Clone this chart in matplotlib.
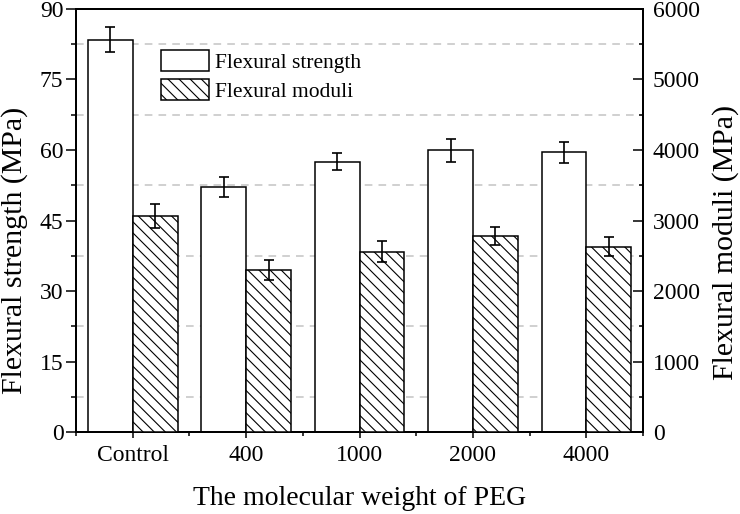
import matplotlib
matplotlib.use("Agg")
import matplotlib.pyplot as plt
import numpy as np
from matplotlib.ticker import MultipleLocator
from matplotlib.patches import Patch

plt.rcParams['font.family'] = ['Liberation Serif', 'DejaVu Serif']
plt.rcParams['hatch.linewidth'] = 0.8

categories = ["Control", "400", "1000", "2000", "4000"]
strength = [83.5, 52.1, 57.5, 59.9, 59.5]
strength_err = [2.7, 2.2, 1.85, 2.4, 2.3]
moduli = [3065, 2300, 2560, 2782, 2630]
moduli_err = [166, 138, 146, 131, 139]

fig = plt.figure(figsize=(7.4, 5.14), dpi=100)
ax = fig.add_axes([0.1027, 0.1595, 0.7663, 0.8230])
ax2 = ax.twinx()

x = np.arange(1, len(categories) + 1)
w = 0.395
lw = 1.1

ax.bar(x - w / 2, strength, width=w, color='white', edgecolor='black', linewidth=lw, zorder=3)
ax.errorbar(x - w / 2, strength, yerr=strength_err, fmt='none', ecolor='black',
            elinewidth=1.2, capsize=3.3, capthick=1.2, zorder=4)
ax2.bar(x + w / 2, moduli, width=w, color='white', edgecolor='black', linewidth=lw,
        hatch='\\\\\\', zorder=3)
ax2.errorbar(x + w / 2, moduli, yerr=moduli_err, fmt='none', ecolor='black',
             elinewidth=1.2, capsize=3.3, capthick=1.2, zorder=4)

ax.set_xlim(0.5, 5.5)
ax.set_ylim(0, 90)
ax2.set_ylim(0, 6000)

ax.set_xticks(x)
ax.set_xticklabels(categories)
ax.xaxis.set_minor_locator(MultipleLocator(0.5))
ax.yaxis.set_major_locator(MultipleLocator(15))
ax.yaxis.set_minor_locator(MultipleLocator(7.5))
ax2.yaxis.set_major_locator(MultipleLocator(1000))
ax2.yaxis.set_minor_locator(MultipleLocator(500))

# grid at minor ticks (between majors)
for v in np.arange(7.5, 90, 15):
    ax.axhline(v, color='#c4c4c4', linestyle=(0, (5, 4)), linewidth=1.1, zorder=1)

ax.tick_params(axis='y', which='major', direction='out', length=7, width=1.1, labelsize=17, pad=2)
ax.tick_params(axis='y', which='minor', direction='out', length=3.6, width=1.1)
ax.tick_params(axis='x', which='major', direction='out', length=4.3, width=1.1, labelsize=17, pad=5)
ax.tick_params(axis='x', which='minor', direction='out', length=2.7, width=1.1)
ax2.tick_params(axis='y', which='major', direction='in', length=7, width=1.1, labelsize=17, pad=7)
ax2.tick_params(axis='y', which='minor', direction='in', length=3, width=1.1)

for a in (ax, ax2):
    for s in a.spines.values():
        s.set_linewidth(1.4)

ax.set_xlabel("The molecular weight of PEG", fontsize=20)
ax.set_ylabel("Flexural strength (MPa)", fontsize=21.5)
ax2.set_ylabel("Flexural moduli (MPa)", fontsize=21.5)
ax.xaxis.set_label_coords(0.5, -0.128)
ax.yaxis.set_label_coords(-0.085, 0.43)
ax2.yaxis.set_label_coords(1.122, 0.449)

handles = [Patch(facecolor='white', edgecolor='black', linewidth=lw),
           Patch(facecolor='white', edgecolor='black', linewidth=lw, hatch='\\\\\\')]
ax2.legend(handles, ["Flexural strength", "Flexural moduli"], loc='upper left',
           bbox_to_anchor=(0.135, 0.923), frameon=False, fontsize=15.5,
           handlelength=2.2, handleheight=1.1, handletextpad=0.3, labelspacing=0.3,
           borderaxespad=0)

fig.savefig("out.png", dpi=100)
